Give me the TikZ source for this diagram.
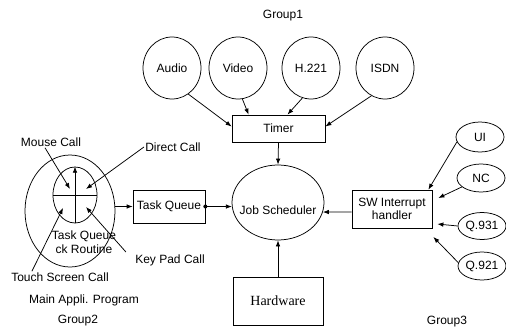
\documentclass[tikz,border=0pt]{standalone}
\usepackage{fontspec}
\setmainfont{Liberation Sans}
\newfontfamily\hwfont{Liberation Serif}
\usetikzlibrary{arrows.meta,shapes.geometric}
\begin{document}
\begin{tikzpicture}[x=1pt,y=-1pt,
  every node/.style={font=\fontsize{12}{13.5}\selectfont},
  line width=0.75pt,
  arr/.style={-{Latex[length=6pt,width=4.5pt]}},
  circ/.style={draw,ellipse,minimum width=58pt,minimum height=62pt,inner sep=0pt},
  sell/.style={draw,ellipse,minimum width=48pt,minimum height=28pt,inner sep=0pt},
  boxn/.style={draw,rectangle,inner sep=0pt},
  lbl/.style={inner sep=1pt}]
\useasboundingbox (0,0) rectangle (506,329);

% Group 1
\node[lbl] (g1) at (283,16) {Group1};
\node[circ] (audio) at (172,68) {Audio};
\node[circ] (video) at (238,68) {Video};
\node[circ] (h221) at (311,68) {H.221};
\node[circ] (isdn) at (385,68) {ISDN};
\node[boxn,minimum width=93pt,minimum height=27pt] (timer) at (278.5,128.5) {Timer};

\draw[arr] (audio.-58) -- ([yshift=2pt]timer.west);
\draw[arr] (video.-82) -- ([xshift=17pt]timer.north west);
\draw[arr] (h221.-106) -- ([xshift=9pt]timer.north);
\draw[arr] (isdn.-116) -- ([yshift=2pt]timer.east);

% Centre
\node[draw,ellipse,minimum width=92pt,minimum height=75pt,inner sep=0pt] (job) at (278,202.5) {};
\node[lbl] (jobt) at (278,210) {Job Scheduler};
\node[boxn,minimum width=90pt,minimum height=48pt] (hw) at (278,301) {\hwfont\fontsize{14}{16}\selectfont Hardware};
\draw[arr] (timer.south) -- (job.north);
\draw[arr] (hw.north) -- (job.south);

\node[boxn,minimum width=72pt,minimum height=33pt] (tq) at (169,206.5) {Task Queue};
\draw[arr] (tq.east) -- (job.185);
\fill (tq.east) circle (2pt);

% Group 3
\node[boxn,minimum width=80pt,minimum height=38pt,align=center] (sw) at (392,209) {SW Interrupt\\handler};
\draw[arr] (sw.west |- 0,212) coordinate (swa) -- (job.-12);
\node[sell,minimum height=30pt] (ui) at (480,137) {UI};
\node[sell] (nc) at (481,178) {NC};
\node[sell,minimum height=27pt] (q931) at (482,226) {Q.931};
\node[sell] (q921) at (482,266) {Q.921};
\draw[arr] (ui.192) -- ([xshift=-4pt]sw.north east);
\draw[arr] (nc.205) -- ([xshift=6pt,yshift=11pt]sw.east);
\draw[arr] (q931.west) -- ([xshift=5pt,yshift=-15pt]sw.east);
\draw[arr] (q921.172) -- ([xshift=1pt,yshift=-28pt]sw.east);
\node[lbl] (g3) at (447,322) {Group3};

% Group 2
\node[draw,ellipse,minimum width=90pt,minimum height=112pt,inner sep=0pt] (mainell) at (70,211) {};
\node[draw,ellipse,minimum width=44pt,minimum height=56pt,inner sep=0pt] (inner) at (75,195) {};
\draw (inner.west) -- (inner.east);
\draw[arr] (inner.south) -- (inner.north);
\node[lbl,align=center] (tqr) at (84,242) {Task Queue\\ck Routine};
\draw[arr] (mainell.east |- tq.west) -- (tq.west);

\node[lbl] (mouse) at (51,142) {Mouse Call};
\node[lbl] (direct) at (173,147) {Direct Call};
\node[lbl] (keypad) at (170,260) {Key Pad Call};
\node[lbl] (touch) at (60,277) {Touch Screen Call};
\draw[arr] ([xshift=-6pt]mouse.south) -- ([xshift=-5pt,yshift=6pt]inner.center);
\draw[arr] (direct.west) -- ([xshift=11pt,yshift=6pt]inner.center);
\draw[arr] ([xshift=-8pt,yshift=1pt]keypad.north west) -- ([xshift=11pt,yshift=-12pt]inner.center);
\draw[arr] ([xshift=22pt]touch.north west) -- ([xshift=-12pt,yshift=-13pt]inner.center);

\node[lbl] (mainap) at (84,300) {Main Appli. Program};
\node[lbl] (g2) at (78,321) {Group2};
\end{tikzpicture}
\end{document}
